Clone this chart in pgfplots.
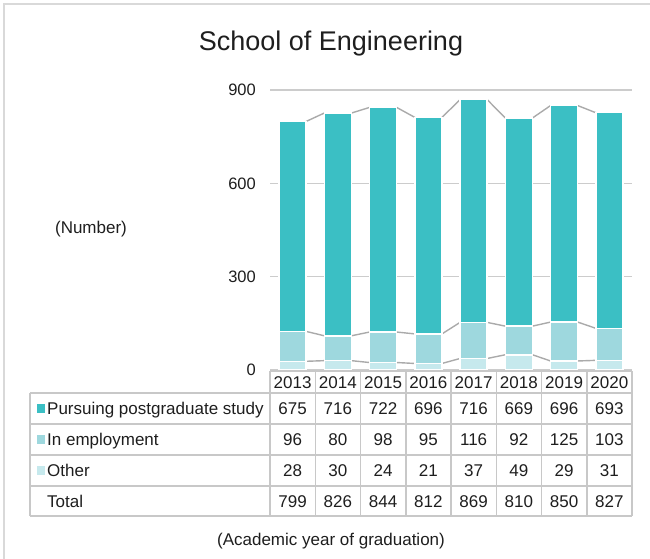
\documentclass[border=0pt]{standalone}
\usepackage{pgfplots}
\usepackage{pgfplotstable}
\pgfplotsset{compat=1.18}
\usepackage{fontspec}
\setmainfont{Liberation Sans}
\definecolor{cP}{RGB}{59,191,196}
\definecolor{cE}{RGB}{158,216,222}
\definecolor{cO}{RGB}{198,233,237}
\definecolor{gridc}{RGB}{204,204,204}
\definecolor{serc}{RGB}{170,170,170}
\definecolor{tabc}{RGB}{200,200,200}
\definecolor{framec}{RGB}{217,217,217}
\definecolor{txt}{RGB}{30,30,30}
\pgfplotstableread{
x   O   E   P
0.3 28  96  675
0.7 30  80  716
1.0 nan nan nan
1.3 30  80  716
1.7 24  98  722
2.0 nan nan nan
2.3 24  98  722
2.7 21  95  696
3.0 nan nan nan
3.3 21  95  696
3.7 37  116 716
4.0 nan nan nan
4.3 37  116 716
4.7 49  92  669
5.0 nan nan nan
5.3 49  92  669
5.7 29  125 696
6.0 nan nan nan
6.3 29  125 696
6.7 31  103 693
}\serieslines
\pgfplotsset{base/.style={scale only axis, width=362pt, height=280pt,
  at={(270pt,189pt)}, anchor=south west, xmin=-0.5, xmax=7.5, ymin=0, ymax=900,
  axis line style={draw=none}, tick style={draw=none}, clip=false}}
\begin{document}
\begin{tikzpicture}
\useasboundingbox (0,0) rectangle (650pt,559pt);
\draw[framec, line width=1.5pt] (4pt,-2pt) -- (4pt,555pt) -- (652pt,555pt);

% grid and series lines
\begin{axis}[base, unbounded coords=jump, ytick={0,300,600,900}, xtick=\empty,
  ymajorgrids, grid style={gridc, line width=1.5pt},
  yticklabel style={font=\fontsize{16.5}{18}\selectfont, text=txt, inner sep=0pt, anchor=east, xshift=-14pt},
  /pgf/number format/assume math mode=true]
\addplot[serc, line width=1.4pt, no marks] table[x=x, y=O] {\serieslines};
\addplot[serc, line width=1.4pt, no marks] table[x=x, y expr=\thisrow{O}+\thisrow{E}] {\serieslines};
\addplot[serc, line width=1.4pt, no marks] table[x=x, y expr=\thisrow{O}+\thisrow{E}+\thisrow{P}] {\serieslines};
\end{axis}

% bars
\begin{axis}[base, ybar stacked, bar width=27.15pt, xtick=\empty, ytick=\empty]
\addplot[fill=cO, draw=white, line width=1.5pt] coordinates {(0,28) (1,30) (2,24) (3,21) (4,37) (5,49) (6,29) (7,31)};
\addplot[fill=cE, draw=white, line width=1.5pt] coordinates {(0,96) (1,80) (2,98) (3,95) (4,116) (5,92) (6,125) (7,103)};
\addplot[fill=cP, draw=white, line width=1.5pt] coordinates {(0,675) (1,716) (2,722) (3,696) (4,716) (5,669) (6,696) (7,693)};
\end{axis}

\begin{scope}[x=1pt, y=-1pt, shift={(0pt,559pt)}]
% title and labels
\node[anchor=base, inner sep=0pt, text=txt, font=\fontsize{27}{30}\selectfont] at (331,51) {School of Engineering};
\node[anchor=base, inner sep=0pt, text=txt, font=\fontsize{17}{20}\selectfont] at (91,234) {(Number)};
\node[anchor=base, inner sep=0pt, text=txt, font=\fontsize{17}{20}\selectfont] at (331,546) {(Academic year of graduation)};
% table grid
\draw[tabc, line width=1.5pt] (270,371) -- (632,371);
\foreach \yy in {393,424,455,486,516} \draw[tabc, line width=1.5pt] (30,\yy) -- (632,\yy);
\draw[tabc, line width=1.5pt] (30,393) -- (30,516);
\foreach \k in {0,...,8} \draw[tabc, line width=1.5pt] ({270+45.25*\k},371) -- ({270+45.25*\k},516);
% years
\foreach \v [count=\i from 0] in {2013,2014,2015,2016,2017,2018,2019,2020}
  \node[anchor=base, inner sep=0pt, text=txt, font=\fontsize{17}{20}\selectfont] at ({270+45.25*(\i+0.5)},388.5) {\v};
% row labels
\fill[cP] (37,404) rectangle (45,413);
\fill[cE] (37,435) rectangle (45,444);
\fill[cO] (37,466) rectangle (45,475);
\node[anchor=base west, inner sep=0pt, text=txt, font=\fontsize{17}{20}\selectfont] at (47,414.6) {Pursuing postgraduate study};
\node[anchor=base west, inner sep=0pt, text=txt, font=\fontsize{17}{20}\selectfont] at (47,445.6) {In employment};
\node[anchor=base west, inner sep=0pt, text=txt, font=\fontsize{17}{20}\selectfont] at (47,476.6) {Other};
\node[anchor=base west, inner sep=0pt, text=txt, font=\fontsize{17}{20}\selectfont] at (47,507.1) {Total};
% values
\foreach \v [count=\i from 0] in {675,716,722,696,716,669,696,693}
  \node[anchor=base, inner sep=0pt, text=txt, font=\fontsize{17}{20}\selectfont] at ({270+45.25*(\i+0.5)},414.6) {\v};
\foreach \v [count=\i from 0] in {96,80,98,95,116,92,125,103}
  \node[anchor=base, inner sep=0pt, text=txt, font=\fontsize{17}{20}\selectfont] at ({270+45.25*(\i+0.5)},445.6) {\v};
\foreach \v [count=\i from 0] in {28,30,24,21,37,49,29,31}
  \node[anchor=base, inner sep=0pt, text=txt, font=\fontsize{17}{20}\selectfont] at ({270+45.25*(\i+0.5)},476.6) {\v};
\foreach \v [count=\i from 0] in {799,826,844,812,869,810,850,827}
  \node[anchor=base, inner sep=0pt, text=txt, font=\fontsize{17}{20}\selectfont] at ({270+45.25*(\i+0.5)},507.1) {\v};
\end{scope}
\end{tikzpicture}
\end{document}
